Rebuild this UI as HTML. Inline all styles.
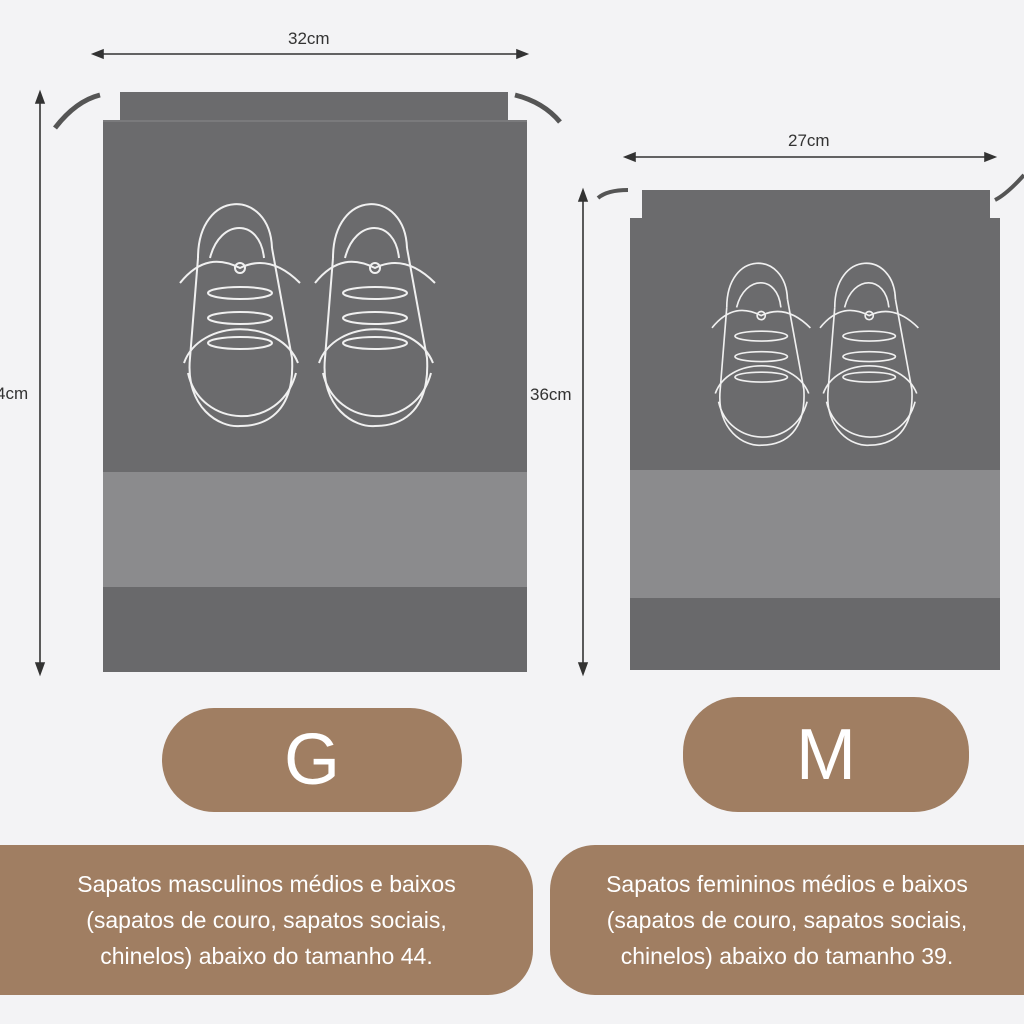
<!DOCTYPE html>
<html><head><meta charset="utf-8"><style>
body{margin:0;width:1024px;height:1024px;background:#f3f3f5;overflow:hidden;position:relative;font-family:"Liberation Sans",sans-serif}
.pill{position:absolute;background:#a07e62;color:#fff;display:flex;align-items:center;justify-content:center}
.txt{position:absolute;background:#a07e62;color:#fff;font-size:23px;line-height:36px;text-align:center;display:flex;align-items:center;justify-content:center}
</style></head><body>
<svg width="1024" height="1024" style="position:absolute;left:0;top:0">
<defs>
<g id="shoe" fill="none" stroke="#f0f0f0" stroke-width="2">
<path d="M18 70 C18 0 90 0 92 60"/>
<path d="M30 70 C40 30 80 30 84 70"/>
<path d="M18 70 L10 170 C5 220 40 240 60 238 C90 238 115 220 112 170 L92 60"/>
<path d="M4 175 C20 130 100 130 118 175"/>
<path d="M8 185 C20 240 100 245 116 185"/>
<path d="M0 95 C20 70 40 70 60 80 C80 70 100 75 120 95"/>
<circle cx="60" cy="80" r="5"/>
<ellipse cx="60" cy="105" rx="32" ry="6"/>
<ellipse cx="60" cy="130" rx="32" ry="6"/>
<ellipse cx="60" cy="155" rx="32" ry="6"/>
</g>
</defs>
<!-- big bag -->
<rect x="103" y="92" width="424" height="380" fill="#6b6b6d"/>
<rect x="103" y="472" width="424" height="115" fill="#8b8b8d"/>
<rect x="103" y="587" width="424" height="85" fill="#69696b"/>
<path d="M103 92 L120 92 L120 120 L103 120Z" fill="#f3f3f5"/>
<path d="M508 92 L527 92 L527 120 L508 120Z" fill="#f3f3f5"/>
<rect x="103" y="120" width="424" height="2" fill="#7a7a7c"/>
<path d="M100 95 C80 100 65 115 55 128" stroke="#555" stroke-width="5" fill="none"/>
<path d="M515 95 C535 100 550 110 560 122" stroke="#555" stroke-width="5" fill="none"/>
<use href="#shoe" transform="translate(180,188)"/>
<use href="#shoe" transform="translate(315,188)"/>
<!-- small bag -->
<rect x="630" y="190" width="370" height="280" fill="#6b6b6d"/>
<rect x="630" y="470" width="370" height="128" fill="#8b8b8d"/>
<rect x="630" y="598" width="370" height="72" fill="#69696b"/>
<rect x="630" y="188" width="12" height="30" fill="#f3f3f5"/>
<rect x="990" y="188" width="12" height="30" fill="#f3f3f5"/>
<path d="M628 190 C615 190 605 192 598 198" stroke="#555" stroke-width="4" fill="none"/>
<path d="M995 200 C1005 195 1015 185 1024 175" stroke="#555" stroke-width="4" fill="none"/>
<use href="#shoe" transform="translate(712,250) scale(0.82,0.82)"/>
<use href="#shoe" transform="translate(820,250) scale(0.82,0.82)"/>
<!-- dimension lines -->
<g stroke="#333" stroke-width="1.6" fill="#333">
<line x1="98" y1="54" x2="522" y2="54"/><path d="M93 54 L103 50 L103 58Z"/><path d="M527 54 L517 50 L517 58Z"/>
<line x1="40" y1="98" x2="40" y2="668"/><path d="M40 92 L36 103 L44 103Z"/><path d="M40 674 L36 663 L44 663Z"/>
<line x1="630" y1="157" x2="990" y2="157"/><path d="M625 157 L635 153 L635 161Z"/><path d="M995 157 L985 153 L985 161Z"/>
<line x1="583" y1="196" x2="583" y2="668"/><path d="M583 190 L579 201 L587 201Z"/><path d="M583 674 L579 663 L587 663Z"/>
</g>
<g font-family="Liberation Sans" font-size="17" fill="#333">
<text x="288" y="44">32cm</text>
<text x="788" y="146">27cm</text>
<text x="-4" y="399">4cm</text>
<text x="530" y="400">36cm</text>
</g>
</svg>
<div class="pill" style="left:162px;top:708px;width:300px;height:104px;border-radius:52px;font-size:72px">G</div>
<div class="pill" style="left:683px;top:697px;width:286px;height:115px;border-radius:55px;font-size:72px">M</div>
<div class="txt" style="left:0;top:845px;width:533px;height:150px;border-radius:0 45px 45px 0">Sapatos masculinos médios e baixos<br>(sapatos de couro, sapatos sociais,<br>chinelos) abaixo do tamanho 44.</div>
<div class="txt" style="left:550px;top:845px;width:474px;height:150px;border-radius:45px 0 0 45px;white-space:nowrap">Sapatos femininos médios e baixos<br>(sapatos de couro, sapatos sociais,<br>chinelos) abaixo do tamanho 39.</div>
</body></html>
